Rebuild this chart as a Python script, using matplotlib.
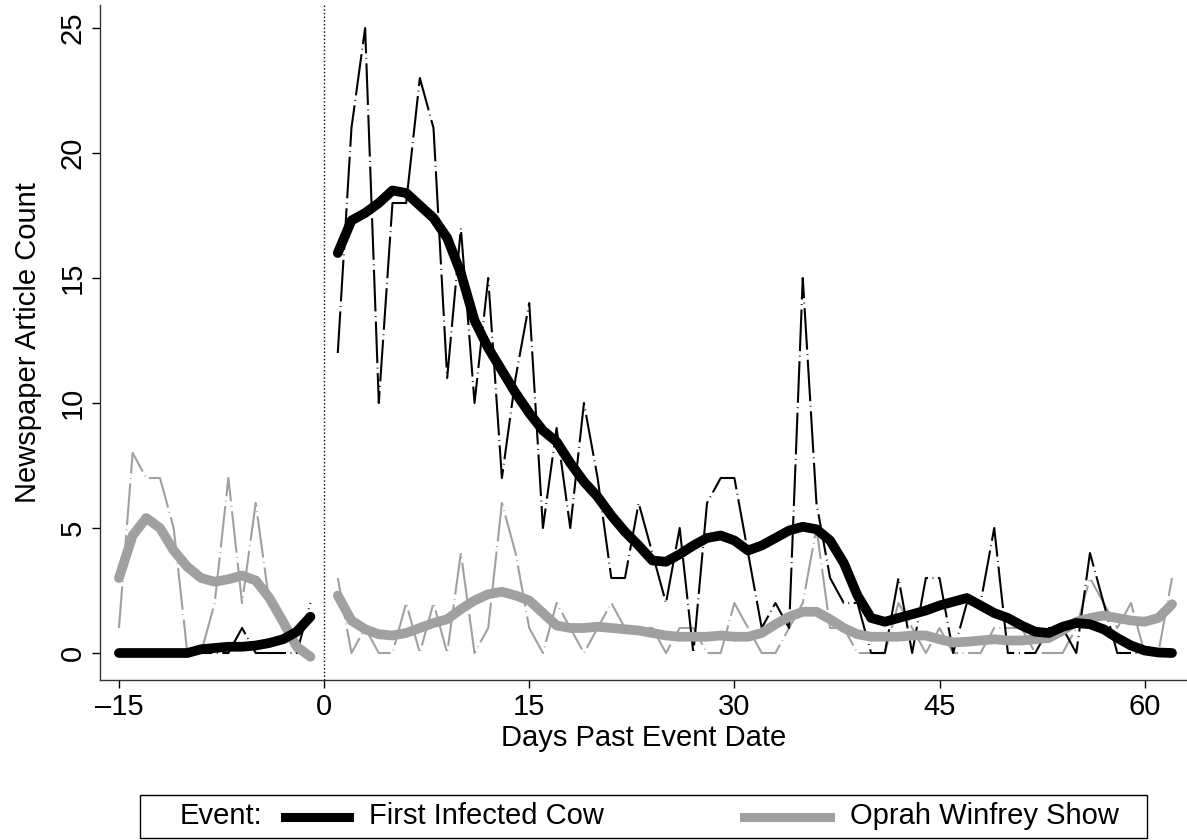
import matplotlib
matplotlib.use("Agg")
import matplotlib.pyplot as plt
from matplotlib.lines import Line2D
from matplotlib.offsetbox import AnchoredOffsetbox, HPacker, TextArea, DrawingArea

plt.rcParams['font.family'] = ['Liberation Sans', 'DejaVu Sans']

# days around the event (day 0 itself is not in the data)
days_pre = list(range(-15, 0))
days_post = list(range(1, 63))

# raw daily article counts
cow_raw_pre = [0, 0, 0, 0, 0, 0, 0, 0, 0, 1, 0, 0, 0, 0, 2]
cow_raw_post = [12, 21, 25, 10, 18, 18, 23, 21, 11, 17,
                10, 15, 7, 11, 14, 5, 9, 5, 10, 7,
                3, 3, 6, 4, 2, 5, 0, 6, 7, 7,
                4, 1, 2, 1, 15, 6, 3, 2, 2, 0,
                0, 3, 0, 3, 3, 0, 2, 2, 5, 0,
                0, 0, 1, 1, 0, 4, 2, 0, 0, 0,
                0, 0]
oprah_raw_pre = [1, 8, 7, 7, 5, 0, 0, 2, 7, 2, 6, 2, 1, 0, 0]
oprah_raw_post = [3, 0, 1, 0, 0, 2, 0, 2, 0, 4,
                  0, 1, 6, 4, 1, 0, 2, 1, 0, 1,
                  2, 1, 1, 1, 0, 1, 1, 0, 0, 2,
                  1, 0, 0, 1, 2, 5, 1, 1, 0, 0,
                  0, 2, 1, 0, 1, 0, 0, 0, 1, 1,
                  1, 0, 0, 0, 1, 3, 2, 1, 2, 0,
                  0, 3]

# smoothed counts
cow_smooth_pre = [0, 0, 0, 0, 0, 0, 0.15, 0.2, 0.25, 0.25, 0.3, 0.4, 0.55, 0.85, 1.45]
cow_smooth_post = [16.0, 17.3, 17.6, 18.0, 18.5, 18.4, 17.9, 17.4, 16.6, 15.2,
                   13.3, 12.2, 11.3, 10.4, 9.6, 8.9, 8.45, 7.6, 6.85, 6.25,
                   5.5, 4.85, 4.3, 3.7, 3.65, 3.95, 4.3, 4.6, 4.7, 4.5,
                   4.1, 4.3, 4.6, 4.9, 5.05, 4.95, 4.5, 3.6, 2.3, 1.4,
                   1.25, 1.4, 1.55, 1.7, 1.9, 2.05, 2.2, 1.9, 1.6, 1.4,
                   1.1, 0.85, 0.8, 1.05, 1.2, 1.15, 0.95, 0.6, 0.3, 0.1,
                   0.02, 0.0]
oprah_smooth_pre = [3.0, 4.7, 5.4, 5.0, 4.1, 3.45, 3.0, 2.85, 2.95, 3.1, 2.9, 2.2, 1.25, 0.25, -0.15]
oprah_smooth_post = [2.3, 1.3, 0.95, 0.75, 0.7, 0.8, 1.0, 1.2, 1.35, 1.75,
                     2.1, 2.35, 2.45, 2.3, 2.1, 1.6, 1.1, 1.0, 1.0, 1.05,
                     1.0, 0.95, 0.9, 0.8, 0.7, 0.65, 0.65, 0.65, 0.7, 0.65,
                     0.65, 0.8, 1.15, 1.45, 1.65, 1.65, 1.35, 1.0, 0.75, 0.65,
                     0.65, 0.65, 0.7, 0.7, 0.55, 0.42, 0.45, 0.5, 0.55, 0.5,
                     0.5, 0.55, 0.6, 0.9, 1.25, 1.4, 1.5, 1.4, 1.3, 1.25,
                     1.4, 1.95]

x_ticks = [-15, 0, 15, 30, 45, 60]
x_ticklabels = ['\u201315', '0', '15', '30', '45', '60']
y_ticks = [0, 5, 10, 15, 20, 25]

GRAY = '#a0a0a0'
FS = 21
raw_dash = (20, 2.2, 0.4, 2.2)

W, H = 1187, 840
fig = plt.figure(figsize=(W / 100, H / 100), dpi=100)
ax = fig.add_axes([100 / W, (840 - 680) / H, (W - 100) / W, (680 - 5) / H])

# raw series
for d, v in [(days_pre, oprah_raw_pre), (days_post, oprah_raw_post)]:
    ax.plot(d, v, color=GRAY, lw=1.5, dashes=raw_dash, zorder=2)
for d, v in [(days_pre, cow_raw_pre), (days_post, cow_raw_post)]:
    ax.plot(d, v, color='black', lw=1.5, dashes=raw_dash, zorder=2)

# smoothed series
for d, v in [(days_pre, oprah_smooth_pre), (days_post, oprah_smooth_post)]:
    ax.plot(d, v, color=GRAY, lw=7, solid_capstyle='round', solid_joinstyle='round', zorder=3)
for d, v in [(days_pre, cow_smooth_pre), (days_post, cow_smooth_post)]:
    ax.plot(d, v, color='black', lw=7, solid_capstyle='round', solid_joinstyle='round', zorder=4)

ax.axvline(0, color='black', lw=1, ls=':', zorder=1)

ax.set_xlim((100 - 324.1) / 13.676, (W - 324.1) / 13.676)
ax.set_ylim((653 - 680) / 25, (653 - 5) / 25)
ax.set_xticks(x_ticks)
ax.set_xticklabels(x_ticklabels)
ax.set_yticks(y_ticks)
ax.tick_params(axis='both', labelsize=FS, length=6, width=1, direction='out')
for lab in ax.get_yticklabels():
    lab.set_rotation(90)
    lab.set_va('center')
for s in ['top', 'right']:
    ax.spines[s].set_visible(False)
for s in ['left', 'bottom']:
    ax.spines[s].set_linewidth(1)
    ax.spines[s].set_color('#333333')

ax.set_xlabel('Days Past Event Date', fontsize=FS, labelpad=2)
ax.set_ylabel('Newspaper Article Count', fontsize=FS, labelpad=12)

K = 0.72  # px -> pt
BOX_H = 43


def key(color, lead, length, tail):
    da = DrawingArea((lead + length + tail) * K, BOX_H * K, 0, 0)
    y = BOX_H * K / 2
    da.add_artist(Line2D([lead * K, (lead + length) * K], [y, y], color=color, lw=6.5))
    return da


def gap(px):
    return DrawingArea(px * K, BOX_H * K, 0, 0)


txt = dict(size=FS)
row = HPacker(children=[gap(40),
                        TextArea('Event:', textprops=txt),
                        key('black', 23, 64, 20),
                        TextArea('First Infected Cow', textprops=txt),
                        key(GRAY, 140, 86, 20),
                        TextArea('Oprah Winfrey Show', textprops=txt),
                        gap(28)],
              align='center', pad=0, sep=0)
box = AnchoredOffsetbox(loc='center', child=row, pad=0, borderpad=0,
                        frameon=True, bbox_to_anchor=(643.5 / W, 1 - 816.5 / H),
                        bbox_transform=fig.transFigure)
box.patch.set_edgecolor('black')
box.patch.set_linewidth(1)
box.patch.set_boxstyle('square', pad=0)
fig.add_artist(box)

fig.savefig('out.png', dpi=100)
